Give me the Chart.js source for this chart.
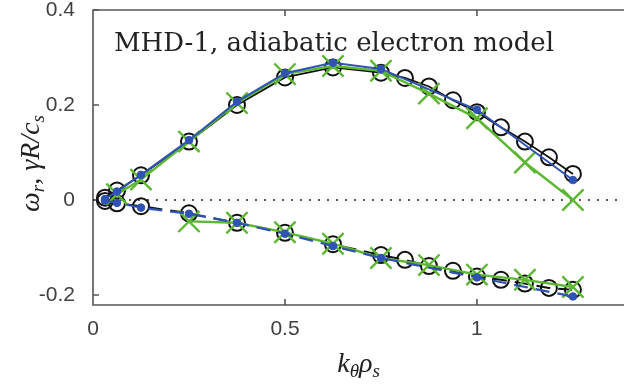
<!DOCTYPE html>
<html>
<head>
<meta charset="utf-8">
<script src="https://cdn.jsdelivr.net/npm/chart.js@4"></script>
<style>
  html, body { margin: 0; padding: 0; background: #fff; overflow: hidden; }
  #wrap { width: 624px; height: 387px; }
</style>
</head>
<body>
<div id="wrap"><canvas id="chart" width="624" height="387"></canvas></div>
<script>
// k_theta rho_s values
const kBlack = [0.03125, 0.0625, 0.125, 0.25, 0.375, 0.5, 0.625, 0.75, 0.8125, 0.875, 0.9375, 1.0, 1.0625, 1.125, 1.1875, 1.25];
const blackGamma = [0.005, 0.02, 0.052, 0.123, 0.2, 0.258, 0.279, 0.268, 0.257, 0.239, 0.21, 0.185, 0.153, 0.123, 0.09, 0.055];
const blackOmega = [-0.002, -0.007, -0.013, -0.028, -0.048, -0.069, -0.093, -0.116, -0.126, -0.139, -0.149, -0.161, -0.168, -0.176, -0.185, -0.189];

const kBlue = [0.03125, 0.0625, 0.125, 0.25, 0.375, 0.5, 0.625, 0.75, 1.0, 1.25];
const blueGamma = [0.002, 0.018, 0.053, 0.126, 0.207, 0.267, 0.289, 0.276, 0.19, 0.042];
const blueOmega = [-0.001, -0.006, -0.016, -0.029, -0.048, -0.071, -0.097, -0.122, -0.163, -0.203];

const kGreenUp = [0.0625, 0.125, 0.25, 0.375, 0.5, 0.625, 0.75, 0.875, 1.0, 1.125, 1.25];
const greenGamma = [0.012, 0.043, 0.123, 0.204, 0.265, 0.282, 0.272, 0.224, 0.172, 0.079, 0.0];
const kGreenLow = [0.25, 0.375, 0.5, 0.625, 0.75, 0.875, 1.0, 1.125, 1.25];
const greenOmega = [-0.045, -0.048, -0.068, -0.092, -0.122, -0.137, -0.157, -0.168, -0.183];

const xTicks = [0, 0.5, 1];
const xTickLabels = ['0', '0.5', '1'];
const yTicks = [-0.2, 0, 0.2, 0.4];
const yTickLabels = ['-0.2', '0', '0.2', '0.4'];
const xMin = 0, xMax = 1.383, yMin = -0.221, yMax = 0.4;

const blue = '#2f52b4';
const green = '#5cb833';
const axisCol = '#555555';
const textCol = '#404040';

function pts(xs, ys) {
  return xs.map((x, i) => ({ x: x, y: ys[i] }));
}

function noPad(s) {
  s.paddingLeft = 0; s.paddingRight = 0; s.paddingTop = 0; s.paddingBottom = 0;
}

// axes box, inward ticks, subscript titles
const decor = {
  id: 'decor',
  beforeDatasetsDraw(chart) {
    const { ctx, chartArea: a, scales: { x, y } } = chart;
    ctx.save();
    ctx.strokeStyle = axisCol;
    ctx.lineWidth = 1.6;
    ctx.beginPath();
    ctx.moveTo(a.right + 2, a.top); ctx.lineTo(a.left, a.top);
    ctx.lineTo(a.left, a.bottom); ctx.lineTo(a.right + 2, a.bottom);
    ctx.stroke();
    ctx.beginPath();
    xTicks.forEach(v => {
      if (v === 0) return;
      const px = x.getPixelForValue(v);
      ctx.moveTo(px, a.bottom); ctx.lineTo(px, a.bottom - 6);
      ctx.moveTo(px, a.top); ctx.lineTo(px, a.top + 6);
    });
    yTicks.forEach(v => {
      const py = y.getPixelForValue(v);
      ctx.moveTo(a.left, py); ctx.lineTo(a.left + 6, py);
    });
    ctx.stroke();
    ctx.restore();
  },
  afterDraw(chart) {
    const { ctx, chartArea: a } = chart;
    ctx.save();
    ctx.fillStyle = '#222';
    ctx.textBaseline = 'alphabetic';
    // annotation
    ctx.font = '26px "DejaVu Serif"';
    ctx.textAlign = 'left';
    ctx.fillText('MHD-1, adiabatic electron model', 114, 51);

    // x title k_theta rho_s
    const big = 'italic 28px "Liberation Serif"';
    const small = 'italic 19px "Liberation Serif"';
    const xParts = [['k', big, 0], ['θ', small, 5], ['ρ', big, 0], ['s', small, 5]];
    drawParts(ctx, xParts, (a.left + a.right) / 2, 372);

    // y title omega_r, gamma R / c_s
    ctx.translate(39, (a.top + a.bottom) / 2 + 6);
    ctx.rotate(-Math.PI / 2);
    const yParts = [['ω', big, 0], ['r', small, 5], [', γR/c', big, 0], ['s', small, 5]];
    drawParts(ctx, yParts, 0, 0);
    ctx.restore();
  }
};

function drawParts(ctx, parts, cx, baseY) {
  let w = 0;
  parts.forEach(p => { ctx.font = p[1]; w += ctx.measureText(p[0]).width; });
  let xx = cx - w / 2;
  ctx.textAlign = 'left';
  parts.forEach(p => {
    ctx.font = p[1];
    ctx.fillText(p[0], xx, baseY + p[2]);
    xx += ctx.measureText(p[0]).width;
  });
}

const lineCommon = { showLine: true, tension: 0, fill: false };

new Chart(document.getElementById('chart').getContext('2d'), {
  type: 'scatter',
  data: {
    datasets: [
      Object.assign({}, lineCommon, {
        data: pts(kBlue, blueGamma), borderColor: blue, borderWidth: 2,
        pointStyle: 'circle', pointRadius: 3.8, pointBackgroundColor: blue, pointBorderColor: blue, pointBorderWidth: 1, order: 1
      }),
      Object.assign({}, lineCommon, {
        data: pts(kBlue, blueOmega), borderColor: blue, borderWidth: 2.2, borderDash: [14, 8],
        pointStyle: 'circle', pointRadius: 3.8, pointBackgroundColor: blue, pointBorderColor: blue, pointBorderWidth: 1, order: 1
      }),
      Object.assign({}, lineCommon, {
        data: pts(kGreenUp, greenGamma), borderColor: green, borderWidth: 2.4,
        pointStyle: 'crossRot', pointRadius: 15, pointBorderColor: green, pointBorderWidth: 2.4, order: 2
      }),
      Object.assign({}, lineCommon, {
        data: pts(kGreenLow, greenOmega), borderColor: green, borderWidth: 2.4,
        pointStyle: 'crossRot', pointRadius: 15, pointBorderColor: green, pointBorderWidth: 2.4, order: 2
      }),
      Object.assign({}, lineCommon, {
        data: pts(kBlack, blackGamma), borderColor: '#111', borderWidth: 1.8,
        pointStyle: 'circle', pointRadius: 8, pointBackgroundColor: 'rgba(0,0,0,0)', pointBorderColor: '#111', pointBorderWidth: 2, order: 3
      }),
      Object.assign({}, lineCommon, {
        data: pts(kBlack, blackOmega), borderColor: '#111', borderWidth: 2, borderDash: [14, 8],
        pointStyle: 'circle', pointRadius: 8, pointBackgroundColor: 'rgba(0,0,0,0)', pointBorderColor: '#111', pointBorderWidth: 2, order: 3
      }),
      Object.assign({}, lineCommon, {
        data: [{ x: xMin, y: 0 }, { x: xMax, y: 0 }], borderColor: '#222', borderWidth: 1.6, borderDash: [2, 7],
        pointRadius: 0, order: 4
      })
    ]
  },
  options: {
    responsive: false,
    animation: false,
    layout: { autoPadding: false, padding: { top: 10, right: 0, left: 0, bottom: 0 } },
    plugins: { legend: { display: false }, tooltip: { enabled: false } },
    elements: { point: { hoverRadius: 0 } },
    scales: {
      x: {
        type: 'linear', min: xMin, max: xMax,
        grid: { display: false, drawTicks: false }, border: { display: false },
        afterBuildTicks: s => { s.ticks = xTicks.map(v => ({ value: v })); },
        afterFit: s => { s.height = 82; noPad(s); },
        ticks: {
          padding: 12, color: textCol, maxRotation: 0, autoSkip: false,
          font: { family: '"Liberation Sans", Arial', size: 21 },
          callback: v => xTickLabels[xTicks.indexOf(v)]
        }
      },
      y: {
        type: 'linear', min: yMin, max: yMax,
        grid: { display: false, drawTicks: false }, border: { display: false },
        afterBuildTicks: s => { s.ticks = yTicks.map(v => ({ value: v })); },
        afterFit: s => { s.width = 93; noPad(s); },
        ticks: {
          padding: 18, color: textCol, autoSkip: false,
          font: { family: '"Liberation Sans", Arial', size: 21 },
          callback: v => yTickLabels[yTicks.indexOf(v)]
        }
      }
    }
  },
  plugins: [decor]
});
</script>
</body>
</html>
